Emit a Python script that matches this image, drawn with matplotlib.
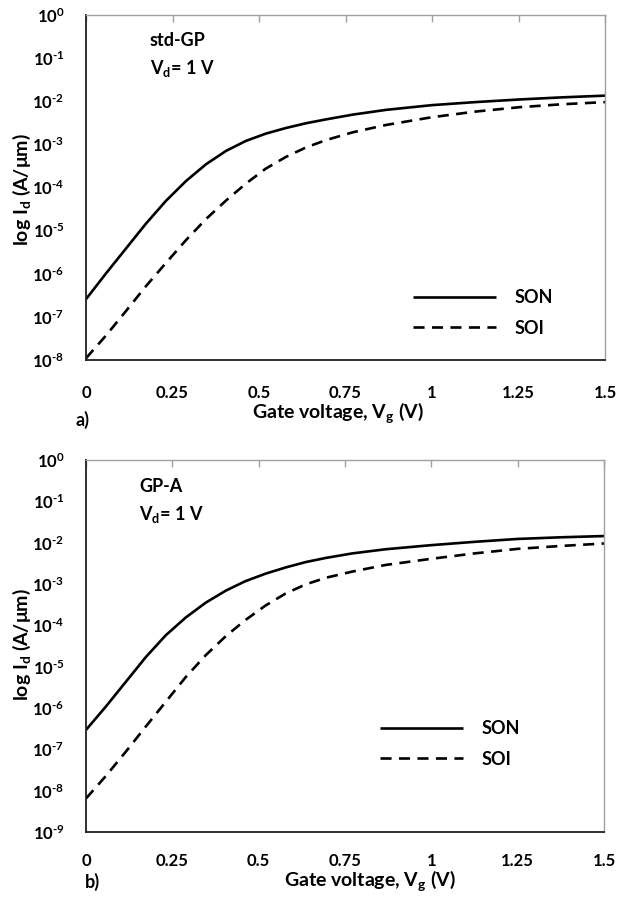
import numpy as np
import matplotlib
matplotlib.use("Agg")
import matplotlib.pyplot as plt
from matplotlib.ticker import FixedLocator, FuncFormatter, NullLocator

plt.rcParams['font.family'] = ['Lato', 'DejaVu Sans']
plt.rcParams['font.weight'] = 'bold'
plt.rcParams['mathtext.fontset'] = 'custom'
plt.rcParams['mathtext.rm'] = 'Lato:bold'
plt.rcParams['mathtext.it'] = 'Lato:bold'
plt.rcParams['mathtext.bf'] = 'Lato:bold'
plt.rcParams['mathtext.default'] = 'rm'

# ---- data (gate voltage in V, drain current exponent log10(A/um)) ----
vg = [0.0, 0.058, 0.116, 0.173, 0.231, 0.289, 0.347, 0.405, 0.462, 0.520,
      0.578, 0.636, 0.694, 0.771, 0.867, 1.0, 1.125, 1.25, 1.375, 1.5]

a_son_log = [-6.59, -5.99, -5.41, -4.84, -4.31, -3.85, -3.46, -3.15, -2.92,
             -2.75, -2.62, -2.51, -2.42, -2.31, -2.20, -2.09, -2.02, -1.96,
             -1.91, -1.87]
a_soi_log = [-7.96, -7.43, -6.86, -6.29, -5.75, -5.22, -4.73, -4.30, -3.91,
             -3.56, -3.29, -3.07, -2.90, -2.72, -2.55, -2.37, -2.24, -2.14,
             -2.07, -2.02]

b_son_log = [-6.53, -5.96, -5.36, -4.77, -4.24, -3.81, -3.45, -3.16, -2.93,
             -2.75, -2.60, -2.47, -2.37, -2.26, -2.16, -2.06, -1.98, -1.91,
             -1.87, -1.84]
b_soi_log = [-8.19, -7.64, -7.05, -6.45, -5.85, -5.25, -4.72, -4.26, -3.87,
             -3.52, -3.23, -3.01, -2.85, -2.70, -2.54, -2.39, -2.26, -2.15,
             -2.08, -2.02]

x_ticks = [0, 0.25, 0.5, 0.75, 1, 1.25, 1.5]
x_tick_labels = ['0', '0.25', '0.5', '0.75', '1', '1.25', '1.5']
series_names = ['SON', 'SOI']
panel_titles = ['std-GP', 'GP-A']
panel_tags = ['a)', 'b)']
y_min_exp = [-8, -9]

W, H = 617, 897
fig = plt.figure(figsize=(W / 100, H / 100), dpi=100)

def fx(px):
    return px / W

def fy(py):
    return 1 - py / H

axes_px = [(86, 15, 605, 360), (86, 460, 604, 832)]
xtick_pad = [18, 15]
legend_px = [(404, 280), (371, 711)]
ann_px = [(150, 32), (139, 478)]
tag_px = [(75, 420), (85, 882)]
xlabel_px = [(338, 413), (370, 881)]
ylabel_px = [(22, 190), (22, 645)]

data = [(a_son_log, a_soi_log), (b_son_log, b_soi_log)]


def ytick_label(v, p):
    e = int(round(np.log10(v)))
    if e < 0:
        return r'$10^{\text{-}%d}$' % (-e)
    return r'$10^{%d}$' % e


ytick_fmt = FuncFormatter(ytick_label)

for i in range(2):
    l, t, r, b = axes_px[i]
    ax = fig.add_axes([fx(l), fy(b), fx(r) - fx(l), fy(t) - fy(b)])
    son, soi = data[i]
    ax.plot(vg, 10.0 ** np.array(son), color='black', lw=1.9,
            solid_capstyle='butt', solid_joinstyle='round', label=series_names[0])
    ax.plot(vg, 10.0 ** np.array(soi), color='black', lw=1.9,
            linestyle=(0, (4.2, 2.8)), dash_capstyle='butt', label=series_names[1])
    ax.set_yscale('log')
    ax.set_ylim(10.0 ** y_min_exp[i], 1)
    ax.set_xlim(0, 1.5)
    ax.yaxis.set_major_locator(FixedLocator([10.0 ** e for e in range(y_min_exp[i], 1)]))
    ax.yaxis.set_minor_locator(NullLocator())
    ax.yaxis.set_major_formatter(ytick_fmt)
    ax.set_xticks(x_ticks)
    ax.set_xticklabels(x_tick_labels)
    ax.tick_params(axis='x', bottom=False, top=True, labelbottom=True,
                   labeltop=False, direction='in', length=5, color='#a0a0a0',
                   width=1, pad=xtick_pad[i], labelsize=12)
    ax.tick_params(axis='y', left=False, right=False, labelsize=12, pad=12)
    for s in ['left', 'bottom']:
        ax.spines[s].set_color('#202020')
        ax.spines[s].set_linewidth(1.3)
    for s in ['top', 'right']:
        ax.spines[s].set_color('#a0a0a0')
        ax.spines[s].set_linewidth(1.0)
    for lab in ax.get_xticklabels() + ax.get_yticklabels():
        lab.set_fontweight('bold')

    lx, ly = legend_px[i]
    ax.legend(loc='upper left', bbox_to_anchor=(fx(lx), fy(ly)),
              bbox_transform=fig.transFigure, frameon=False, borderpad=0,
              handlelength=4.6, handletextpad=1.0, labelspacing=0.75,
              prop={'family': 'Lato', 'weight': 'bold', 'size': 13})

    axx, axy = ann_px[i]
    fig.text(fx(axx), fy(axy), panel_titles[i] + '\n' + r'V$_d$= 1 V',
             ha='left', va='top', fontsize=13, fontweight='bold',
             linespacing=1.55)
    tx, ty = tag_px[i]
    fig.text(fx(tx), fy(ty), panel_tags[i], ha='left', va='center',
             fontsize=13, fontweight='bold')
    xx, xy = xlabel_px[i]
    fig.text(fx(xx), fy(xy), r'Gate voltage, V$_g$ (V)', ha='center',
             va='center', fontsize=14, fontweight='bold')
    yx, yy = ylabel_px[i]
    fig.text(fx(yx), fy(yy), r'log I$_d$ (A/μm)', ha='center', va='center',
             rotation=90, fontsize=14, fontweight='bold')

fig.savefig('out.png', dpi=100)
